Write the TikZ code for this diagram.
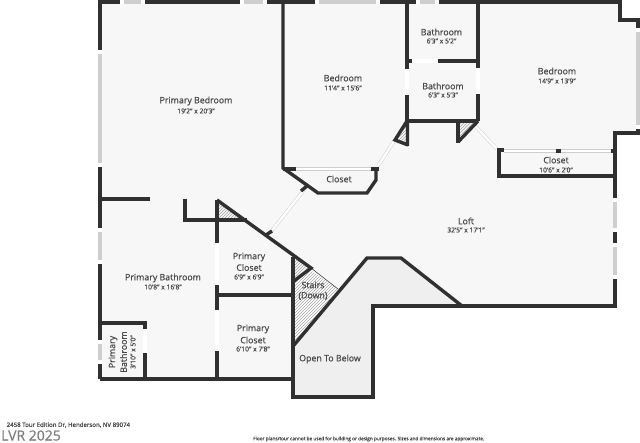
\documentclass[tikz,border=0pt]{standalone}
\usepackage{fontspec}
\setmainfont{Open Sans}[RawFeature={embolden=0.6}]
\usetikzlibrary{patterns}
\definecolor{wallc}{HTML}{303030}
\definecolor{floorc}{HTML}{F7F7F7}
\definecolor{openc}{HTML}{EFEFEF}
\definecolor{txtc}{HTML}{484848}
\definecolor{winc}{HTML}{CECECE}
\tikzset{
  wall/.style={draw=wallc,line width=3.4pt,line join=miter,line cap=butt},
  window/.style={draw=winc,line width=3.4pt},
  gapline/.style={draw=white,line width=3.8pt},
  doorway/.style={draw=winc,line width=3.4pt,postaction={draw=white,line width=2.4pt}},
  hatch/.style={pattern=north east lines,pattern color=gray!70},
  room/.style={text=txtc,font=\fontsize{8.8}{10}\selectfont,align=center,inner sep=0pt},
  dim/.style={text=txtc,font=\fontsize{6.8}{7}\selectfont,align=center,inner sep=0pt},
  endsq/.style={fill=white,draw=none}
}
\newcommand{\winH}[3]{\draw[window] (#1,#3) -- (#2,#3);
  \fill[endsq] (#1-1.6,#3-1.8) rectangle (#1+1.6,#3+1.8);
  \fill[endsq] (#2-1.6,#3-1.8) rectangle (#2+1.6,#3+1.8);}
\newcommand{\winV}[3]{\draw[window] (#3,#1) -- (#3,#2);
  \fill[endsq] (#3-1.8,#1-1.6) rectangle (#3+1.8,#1+1.6);
  \fill[endsq] (#3-1.8,#2-1.6) rectangle (#3+1.8,#2+1.6);}
\begin{document}
\begin{tikzpicture}[x=1pt,y=-1pt]
\useasboundingbox (0,0) rectangle (640,443);
\fill[white] (0,0) rectangle (640,443);
% floor
\fill[floorc] (100,2) -- (620,2) -- (620,20) -- (638,20) -- (638,133) -- (615,133) -- (615,306) -- (373,306) -- (373,397) -- (293,397) -- (293,379) -- (100,379) -- cycle;
\fill[openc] (294,345) -- (367,258) -- (401,258) -- (462,306) -- (373,306) -- (373,397) -- (294,397) -- cycle;
% hatched areas
\fill[white] (294,282) -- (310,270) -- (338,289) -- (294,345) -- cycle;
\path[hatch] (294,282) -- (310,270) -- (338,289) -- (294,345) -- cycle;
\path[hatch] (218,200) -- (246,220) -- (218,220) -- cycle;
\path[hatch] (294,257) -- (308,267) -- (294,279) -- cycle;
\path[hatch] (407,121) -- (395,140) -- (407,145) -- cycle;
\path[hatch] (458,121) -- (477,121) -- (458,142) -- cycle;
% outer walls
\draw[wall] (100,379) -- (100,2) -- (620,2) -- (620,20) -- (638,20) -- (638,133) -- (615,133) -- (615,306) -- (373,306) -- (373,397) -- (293,397) -- (293,257);
\draw[wall] (100,379) -- (293,379);
% doorways
\draw[doorway] (296,169) -- (371,169);
\draw[doorway] (504,151) -- (611,151);
\draw[doorway] (394,141) -- (378,166);
\draw[doorway] (476,127) -- (497,149);
\draw[doorway] (304,190) -- (270,233);
% bedroom and closet
\draw[wall] (283,2) -- (283,168) -- (318,193) -- (367,193) -- (376,180) -- (376,168);
\draw[wall] (283,169) -- (296,169);
\draw[wall] (371,169) -- (379,169);
\draw[wall] (407,2) -- (407,121);
\draw[wall] (478,2) -- (478,121);
\draw[wall] (407,121) -- (478,121);
\draw[wall] (407,61) -- (478,61);
\draw[wall] (407,121) -- (395,140) -- (408,145) (407.5,121) -- (407.5,146);
\draw[wall] (458,121) -- (458,143);
\draw[wall] (458,142) -- (478,121);
\draw[wall] (497,150) -- (504,150) (499,150) -- (499,176) -- (615,176);
\draw[wall] (556,151) -- (561,151) (611,151) -- (615,151);
\draw[wall] (301,191) -- (307,186);
\draw[wall] (266,235) -- (272,231);
% lower left walls
\draw[wall] (100,199) -- (150,199);
\draw[wall] (185,199) -- (185,220) -- (247,220);
\draw[wall] (217,200) -- (217,379);
\draw[wall] (217,200) -- (311,268) -- (294,281);
\draw[wall] (217,295) -- (293,295);
\draw[wall] (100,323) -- (145,323) -- (145,379);
% stairs
\draw[wallc,line width=.5pt] (311,268) -- (338,289);
\draw[wall] (294,345) -- (367,258) -- (401,258) -- (462,306);
% openings in walls
\draw[gapline] (407,69) -- (407,95);
\draw[gapline] (478,68) -- (478,94);
\draw[gapline] (412,61) -- (438,61);
\draw[gapline] (217,243) -- (217,285);
\draw[gapline] (217,310) -- (217,351);
\draw[gapline] (145,329) -- (145,353);
% windows
\winH{122}{143}{2}
\winH{242}{265}{2}
\winH{317}{378}{2}
\winH{418}{437}{2}
\winV{52}{165}{100}
\winV{230}{262}{100}
\winV{342}{362}{100}
\winV{30}{127}{638}
\winV{200}{230}{615}
\winV{245}{277}{615}
% labels
\node[room] (n1) at (196,101) {Primary Bedroom};
\node[dim] (n2) at (196,111) {19'2" x 20'3"};
\node[room] (n3) at (343,78) {Bedroom};
\node[dim] (n4) at (343,88) {11'4" x 15'6"};
\node[room] (n5) at (339,179) {Closet};
\node[room] (n6) at (441.5,32) {Bathroom};
\node[dim] (n7) at (441.5,41) {6'3" x 5'2"};
\node[room] (n8) at (443,86) {Bathroom};
\node[dim] (n9) at (443,95) {6'3" x 5'3"};
\node[room] (n10) at (557,71) {Bedroom};
\node[dim] (n11) at (557,81) {14'9" x 13'9"};
\node[room] (n12) at (556,160) {Closet};
\node[dim] (n13) at (556,170) {10'6" x 2'0"};
\node[room] (n14) at (466,221) {Loft};
\node[dim] (n15) at (466,230) {32'5" x 17'1"};
\node[room] (n16) at (163,278) {Primary Bathroom};
\node[dim] (n17) at (163,287) {10'8" x 16'8"};
\node[room] (n18) at (249,257) {Primary};
\node[room] (n19) at (249,267.5) {Closet};
\node[dim] (n20) at (249,277) {6'9" x 6'9"};
\node[room] (n21) at (253,329) {Primary};
\node[room] (n22) at (253,340) {Closet};
\node[dim] (n23) at (253,349) {6'10" x 7'8"};
\node[room] (n24) at (313,285) {Stairs};
\node[room] (n25) at (313,296) {(Down)};
\node[room] (n26) at (330,359) {Open To Below};
\node[room,rotate=90] (n27) at (113,352) {Primary};
\node[room,rotate=90] (n28) at (123.5,352) {Bathroom};
\node[dim,rotate=90] (n29) at (133,352) {3'10" x 5'0"};
\node[text=txtc,font=\fontsize{6.1}{7}\selectfont,anchor=west,inner sep=0pt] (n30) at (6.5,425) {2458 Tour Edition Dr, Henderson, NV 89074};
\node[text=gray,font=\fontsize{14}{16}\selectfont,anchor=west,inner sep=0pt] (n31) at (1,435.5) {LVR 2025};
\node[text=txtc,font=\fontsize{4.75}{5}\selectfont,anchor=west,inner sep=0pt] (n32) at (253,439) {Floor plans/tour cannot be used for building or design purposes. Sizes and dimensions are approximate.};
\end{tikzpicture}
\end{document}
